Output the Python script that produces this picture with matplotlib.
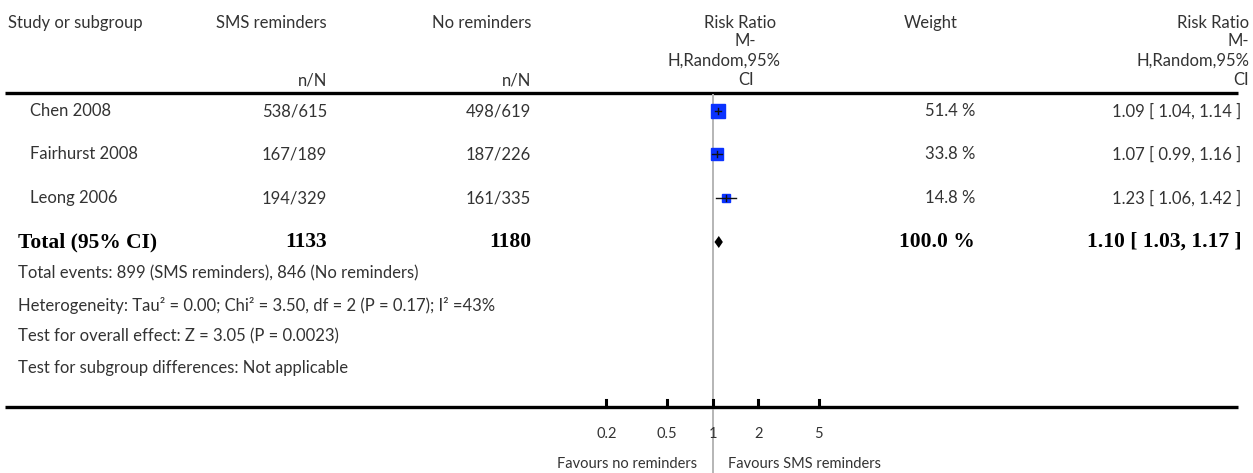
import matplotlib
matplotlib.use('Agg')
import matplotlib.pyplot as plt
import numpy as np

plt.rcParams.update({
    'font.family': ['Lato', 'DejaVu Sans'],
    'font.size': 12,
})

# ── Data ────────────────────────────────────────────────────────────────────
STUDIES   = ['Chen 2008', 'Fairhurst 2008', 'Leong 2006']
SMS_NN    = ['538/615', '167/189', '194/329']
NOREM_NN  = ['498/619', '187/226', '161/335']
RR        = [1.09, 1.07, 1.23]
CI_LO     = [1.04, 0.99, 1.06]
CI_HI     = [1.14, 1.16, 1.42]
WEIGHT    = [51.4, 33.8, 14.8]

TOTAL_SMS, TOTAL_NOREM = 1133, 1180
TOTAL_RR, TOTAL_LO, TOTAL_HI = 1.10, 1.03, 1.17
TOTAL_WEIGHT = 100.0

FOOTNOTES = [
    'Total events: 899 (SMS reminders), 846 (No reminders)',
    'Heterogeneity: Tau\u00b2 = 0.00; Chi\u00b2 = 3.50, df = 2 (P = 0.17); I\u00b2 =43%',
    'Test for overall effect: Z = 3.05 (P = 0.0023)',
    'Test for subgroup differences: Not applicable',
]

TICKS       = [0.2, 0.5, 1, 2, 5]
TICK_LABELS = ['0.2', '0.5', '1', '2', '5']

# ── Layout (pixels) ─────────────────────────────────────────────────────────
W, H = 1253, 473
ROW_Y   = [111, 154, 198]
TOTAL_Y = 242
FOOT_Y  = [273, 305, 336, 368]
AXIS_Y  = 407
X_ONE   = 712.5     # pixel of RR = 1
PX_DEC  = 152.0     # pixels per decade
COL_SMS, COL_NO, COL_W, COL_RR = 327, 531, 975, 1241

fig = plt.figure(figsize=(W / 100, H / 100), dpi=100)

# text layer in pixel coordinates
tx = fig.add_axes([0, 0, 1, 1])
tx.set_xlim(0, W)
tx.set_ylim(H, 0)
tx.axis('off')

# forest layer: log x, pixel y
fx = fig.add_axes([0, 0, 1, 1])
fx.set_xscale('log')
fx.set_xlim(10 ** (-X_ONE / PX_DEC), 10 ** ((W - X_ONE) / PX_DEC))
fx.set_ylim(H, 0)
fx.axis('off')
fx.patch.set_alpha(0)

hdr = dict(color='#333333', va='center')

# headers
tx.text(8, 23, 'Study or subgroup', ha='left', **hdr)
tx.text(COL_SMS, 23, 'SMS reminders', ha='right', **hdr)
tx.text(COL_NO, 23, 'No reminders', ha='right', **hdr)
tx.text(COL_SMS, 80, 'n/N', ha='right', **hdr)
tx.text(COL_NO, 80, 'n/N', ha='right', **hdr)
for (s, xc, y) in [('Risk Ratio', 740, 23), ('M-', 745, 41),
                   ('H,Random,95%', 724, 61), ('CI', 746, 80)]:
    tx.text(xc, y, s, ha='center', **hdr)
tx.text(931, 23, 'Weight', ha='center', **hdr)
for s, y in [('Risk Ratio', 23), ('M-', 41), ('H,Random,95%', 61), ('CI', 80)]:
    tx.text(1249, y, s, ha='right', **hdr)

# rule lines
tx.plot([5, 1238], [93.5, 93.5], color='black', lw=2.4, solid_capstyle='butt')
tx.plot([5, 1238], [AXIS_Y, AXIS_Y], color='black', lw=2.4, solid_capstyle='butt')

# line of no effect
fx.plot([1, 1], [95, H], color='#b5b5b5', lw=1.4, zorder=1)

# studies
for i, name in enumerate(STUDIES):
    y = ROW_Y[i]
    tx.text(30, y, name, ha='left', **hdr)
    tx.text(COL_SMS, y, SMS_NN[i], ha='right', **hdr)
    tx.text(COL_NO, y, NOREM_NN[i], ha='right', **hdr)
    tx.text(COL_W, y, f'{WEIGHT[i]:.1f} %', ha='right', **hdr)
    tx.text(COL_RR, y, f'{RR[i]:.2f} [ {CI_LO[i]:.2f}, {CI_HI[i]:.2f} ]',
            ha='right', **hdr)
    fx.plot(RR[i], y, marker='s', ms=1.5 * np.sqrt(WEIGHT[i]),
            color='#0a32ff', mec='#0a32ff', zorder=3)
    fx.plot([CI_LO[i], CI_HI[i]], [y, y], color='#111111', lw=1.0, zorder=4)
    fx.plot([RR[i], RR[i]], [y - 3, y + 3], color='#111111', lw=1.0, zorder=4)

# total
bold = dict(family=['Liberation Serif'], fontweight='bold', fontsize=15.5,
            color='black', va='center')
tx.text(18, TOTAL_Y, 'Total (95% CI)', ha='left', **bold)
tx.text(COL_SMS, TOTAL_Y, str(TOTAL_SMS), ha='right', **bold)
tx.text(COL_NO, TOTAL_Y, str(TOTAL_NOREM), ha='right', **bold)
tx.text(COL_W, TOTAL_Y, f'{TOTAL_WEIGHT:.1f} %', ha='right', **bold)
tx.text(COL_RR + 1, TOTAL_Y,
        f'{TOTAL_RR:.2f} [ {TOTAL_LO:.2f}, {TOTAL_HI:.2f} ]', ha='right', **bold)
fx.fill([TOTAL_LO, TOTAL_RR, TOTAL_HI, TOTAL_RR],
        [TOTAL_Y, TOTAL_Y - 6, TOTAL_Y, TOTAL_Y + 6],
        color='black', lw=0, zorder=3)

# footnotes
for s, y in zip(FOOTNOTES, FOOT_Y):
    tx.text(18, y, s, ha='left', fontsize=12, **hdr)

# axis ticks and labels
for t, lab in zip(TICKS, TICK_LABELS):
    fx.plot([t, t], [AXIS_Y - 7, AXIS_Y], color='black', lw=2.2)
    fx.text(t, 434, lab, ha='center', va='center', fontsize=10.5, color='#333333')

fx.text(0.79, 464, 'Favours no reminders', ha='right', va='center',
        fontsize=10.5, color='#333333')
fx.text(1.26, 464, 'Favours SMS reminders', ha='left', va='center',
        fontsize=10.5, color='#333333')

fig.savefig('out.png', dpi=100)
